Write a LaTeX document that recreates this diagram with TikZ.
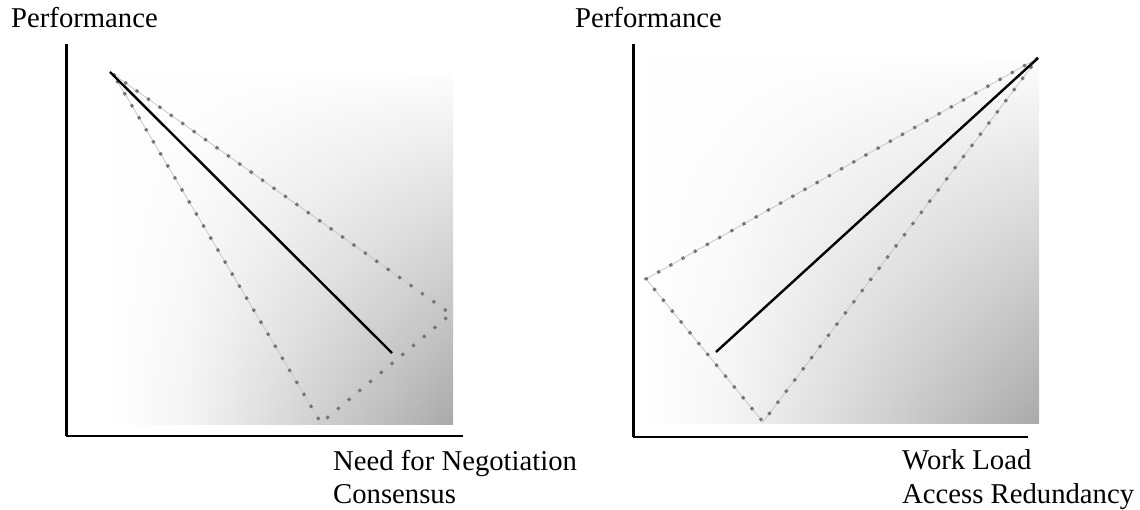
\documentclass[tikz,border=0pt]{standalone}
\usepackage{fontspec}
\setmainfont{Liberation Serif}
\usetikzlibrary{fadings}
\tikzfading[name=fadedown, top color=transparent!0, middle color=transparent!62, bottom color=transparent!100]
\definecolor{dotgray}{HTML}{747474}
\definecolor{faintgray}{HTML}{C8C8C8}
\definecolor{shadegray}{HTML}{AAAAAA}
\pgfdeclarehorizontalshading{panelshade}{100bp}{color(0bp)=(white); color(25bp)=(white); color(36bp)=(white!96!black); color(75bp)=(shadegray); color(100bp)=(shadegray)}
\tikzset{
  lbl/.style={inner sep=0pt, anchor=base west, font=\fontsize{28.7}{33}\selectfont},
  yaxisline/.style={line width=3pt, black},
  xaxisline/.style={line width=2.4pt, black},
  trend/.style={line width=2.4pt, black},
  bandfaint/.style={line width=0.8pt, faintgray, line join=round},
  banddots/.style={line width=3pt, dotgray, dash pattern=on 3pt off 11pt},
  panel/.style={shading=panelshade},
  panelfade/.style={fill=white, path fading=fadedown},
}
\begin{document}
\begin{tikzpicture}[x=1pt,y=-1pt]
\useasboundingbox (0,0) rectangle (1140,510);

% ---------- left panel ----------
\shade[panel] (110,74) rectangle (453,424);
\fill[panelfade] (108,68) rectangle (455,424);

\coordinate (lA) at (113,74);
\coordinate (lR) at (451,314);
\coordinate (lB) at (321,423);
\draw[bandfaint] (lA) -- (lR) -- (lB) -- cycle;
\draw[banddots] (lA) -- (lR) -- (lB) -- cycle;

\coordinate (lS) at (110,72);
\coordinate (lE) at (392,353);
\draw[trend] (lS) -- (lE);

\coordinate (lTop) at (66,44);
\coordinate (lO) at (66,436);
\coordinate (lRight) at (463,436);
\draw[yaxisline] (lTop) -- (lO);
\draw[xaxisline] (lO) -- (lRight);

\node[lbl] (lperf) at (11,28) {Performance};
\node[lbl] (lneed) at (333,470) {Need for Negotiation};
\node[lbl] (lcons) at (333,503) {Consensus};

% ---------- right panel ----------
\shade[panel] (645,58) rectangle (1039,423);
\fill[panelfade] (643,52) rectangle (1041,423);

\coordinate (rT) at (1038,58);
\coordinate (rL) at (646,279);
\coordinate (rB) at (763,422);
\draw[bandfaint] (rT) -- (rL) -- (rB) -- cycle;
\draw[banddots] (rT) -- (rL) -- (rB) -- cycle;

\coordinate (rS) at (716,352);
\coordinate (rE) at (1038,58);
\draw[trend] (rS) -- (rE);

\coordinate (rTop) at (633,44);
\coordinate (rO) at (633,437);
\coordinate (rRight) at (1028,437);
\draw[yaxisline] (rTop) -- (rO);
\draw[xaxisline] (rO) -- (rRight);

\node[lbl] (rperf) at (575,28) {Performance};
\node[lbl] (rwork) at (902,469) {Work Load};
\node[lbl] (racc) at (902,503) {Access Redundancy};
\end{tikzpicture}
\end{document}
